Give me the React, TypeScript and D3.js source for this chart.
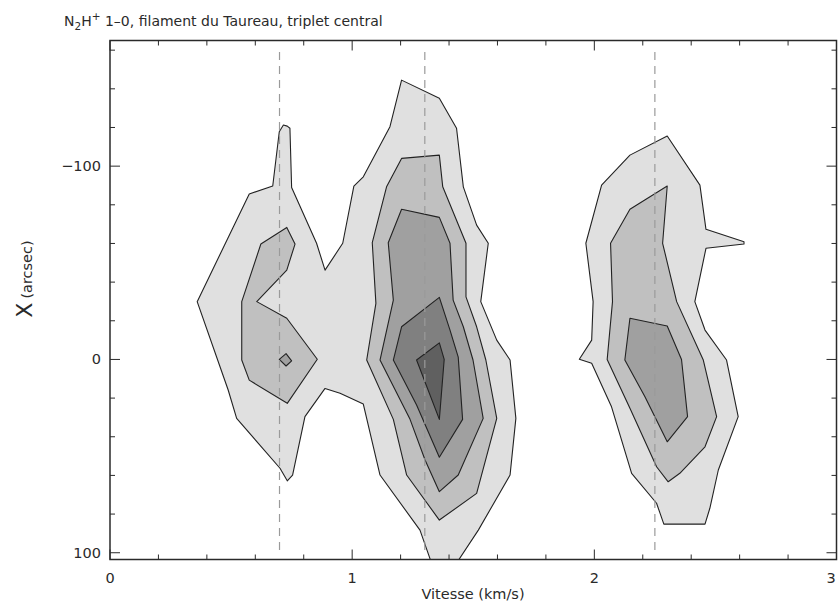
import React from "react"
import * as d3 from "d3"

// contour polygons, [velocity km/s, offset arcsec]
const outerLeftMid: [number, number][] = [
  [0.36, -29.9], [0.575, -85.6], [0.672, -89.7], [0.699, -117.8], [0.716, -121.3],
  [0.732, -120.7], [0.743, -119.6], [0.75, -89.0], [0.853, -60.1], [0.888, -46.2],
  [0.961, -60.1], [1.007, -89.7], [1.046, -94.5], [1.156, -120.4], [1.204, -144.5],
  [1.36, -135.1], [1.431, -119.6], [1.459, -89.3], [1.514, -69.5], [1.562, -60.1],
  [1.531, -29.9], [1.597, -10.0], [1.652, 0.3], [1.676, 30.5], [1.652, 59.8],
  [1.521, 88.3], [1.412, 109], [1.338, 109], [1.28, 88.3], [1.115, 59.8],
  [1.046, 23.1], [0.95, 17.5], [0.888, 15.0], [0.805, 29.6], [0.754, 59.8],
  [0.732, 62.8], [0.702, 56.3], [0.523, 30.5], [0.488, 15.8],
]
const leftL2: [number, number][] = [
  [0.73, -68.3], [0.764, -59.7], [0.73, -46.2], [0.606, -29.9], [0.73, -21.3],
  [0.856, -0.1], [0.732, 22.7], [0.575, 10.7], [0.544, 0.3], [0.544, -29.9], [0.623, -59.7],
]
const leftL3: [number, number][] = [
  [0.699, 0], [0.727, -3], [0.75, 0.7], [0.727, 3.4],
]
const midL2: [number, number][] = [
  [1.204, -104.0], [1.36, -105.7], [1.374, -89.3], [1.47, -60.1], [1.47, -32.4],
  [1.514, -16.9], [1.552, 0.3], [1.597, 30.5], [1.514, 69.3], [1.36, 83.1],
  [1.225, 59.8], [1.17, 31.0], [1.06, 0.3], [1.098, -29.0], [1.083, -60.4], [1.142, -89.3],
]
const midL3: [number, number][] = [
  [1.204, -77.7], [1.36, -73.5], [1.404, -60.1], [1.417, -30.7], [1.459, -16.9],
  [1.499, 0.3], [1.541, 30.5], [1.438, 59.8], [1.36, 68.4], [1.301, 52.0],
  [1.239, 31.0], [1.115, 0.3], [1.17, -30.7], [1.149, -60.4],
]
const midL4: [number, number][] = [
  [1.36, -32.1], [1.404, -15.2], [1.438, -1.2], [1.456, 31.0], [1.36, 50.6],
  [1.266, 23.6], [1.17, 0.3], [1.204, -16.9],
]
const midL5: [number, number][] = [
  [1.36, -8.6], [1.38, 0], [1.36, 31.0], [1.266, 0.3],
]
const rightL1: [number, number][] = [
  [2.301, -115.6], [2.147, -105.7], [2.03, -90.2], [1.965, -60.1], [1.995, -29.9],
  [1.989, -10.0], [1.938, -0.1], [1.989, 2.0], [2.071, 24.5], [2.154, 58.9],
  [2.257, 74.4], [2.287, 85.2], [2.457, 85.2], [2.477, 77.0], [2.512, 57.2],
  [2.594, 29.6], [2.546, 0.3], [2.457, -15.2], [2.415, -29.9], [2.461, -57.5],
  [2.618, -59.7], [2.618, -60.9], [2.461, -67.3], [2.436, -90.2],
]
const rightL2: [number, number][] = [
  [2.301, -89.7], [2.147, -77.7], [2.067, -60.1], [2.075, -29.9], [2.053, 0],
  [2.147, 25.3], [2.257, 55.5], [2.305, 63.3], [2.353, 58.9], [2.457, 45.2],
  [2.505, 29.6], [2.45, 0.3], [2.34, -29.9], [2.282, -60.1],
]
const rightL3: [number, number][] = [
  [2.147, -21.3], [2.301, -17.3], [2.36, 0], [2.385, 29.6], [2.301, 42.6],
  [2.209, 19.3], [2.126, 0.3],
]

const contours = [
  { level: 1, pts: outerLeftMid },
  { level: 1, pts: rightL1 },
  { level: 2, pts: leftL2 },
  { level: 2, pts: midL2 },
  { level: 2, pts: rightL2 },
  { level: 3, pts: leftL3 },
  { level: 3, pts: midL3 },
  { level: 3, pts: rightL3 },
  { level: 4, pts: midL4 },
  { level: 5, pts: midL5 },
]
const levelFill = ["", "#e0e0e0", "#c0c0c0", "#a0a0a0", "#808080", "#606060"]

const hyperfineLines = [0.7, 1.3, 2.25]
const xMajor = [0, 1, 2, 3]
const yMajor = [-100, 0, 100]
const yLabels = ["\u2212100", "0", "100"]

export default function App() {
  const left = 110, right = 836.5, top = 40.5, bottom = 559.5
  const x = d3.scaleLinear().domain([0, 3]).range([left, right])
  const y = d3.scaleLinear().domain([-165, 103.5]).range([top, bottom])
  const line = d3.line<[number, number]>()
    .x(d => x(d[0]))
    .y(d => y(d[1]))
    .curve(d3.curveLinearClosed)

  const xMinor = d3.range(0, 3.001, 0.2)
  const yMinor = d3.range(-160, 101, 20)
  const font = "'DejaVu Sans', Verdana, sans-serif"
  const ink = "#2a2a2a"

  return (
    <div style={{ position: "absolute", left: 0, top: 0 }}>
      <svg width={838} height={605} style={{ display: "block", background: "#fff" }} fontFamily={font}>
        <defs>
          <clipPath id="plot">
            <rect x={left} y={top} width={right - left} height={bottom - top} />
          </clipPath>
        </defs>
        <g clipPath="url(#plot)">
          {contours.map((c, i) => (
            <path key={i} d={line(c.pts) || ""} fill={levelFill[c.level]}
              stroke="#222" strokeWidth={1.1} strokeLinejoin="round" />
          ))}
          {hyperfineLines.map(v => (
            <line key={v} x1={x(v)} x2={x(v)} y1={y(-159)} y2={y(101)}
              stroke="#9a9a9a" strokeWidth={1.2} strokeDasharray="8,6" />
          ))}
        </g>
        {/* ticks */}
        {xMinor.map(v => {
          const len = xMajor.some(m => Math.abs(m - v) < 1e-6) ? 10 : 5
          return (
            <g key={"xt" + v}>
              <line x1={x(v)} x2={x(v)} y1={bottom} y2={bottom - len} stroke={ink} strokeWidth={1} />
              <line x1={x(v)} x2={x(v)} y1={top} y2={top + len} stroke={ink} strokeWidth={1} />
            </g>
          )
        })}
        {yMinor.map(v => {
          const len = yMajor.includes(v) ? 10 : 5
          return (
            <g key={"yt" + v}>
              <line x1={left} x2={left + len} y1={y(v)} y2={y(v)} stroke={ink} strokeWidth={1} />
              <line x1={right} x2={right - len} y1={y(v)} y2={y(v)} stroke={ink} strokeWidth={1} />
            </g>
          )
        })}
        <rect x={left} y={top} width={right - left} height={bottom - top} fill="none" stroke={ink} strokeWidth={1.5} />
        {/* tick labels */}
        {xMajor.map(v => (
          <text key={"xl" + v} x={Math.min(x(v), 831)} y={583} textAnchor="middle" fontSize={14.5} fill={ink}>{v}</text>
        ))}
        {yMajor.map((v, i) => (
          <text key={"yl" + v} x={101} y={y(v) + 5} textAnchor="end" fontSize={14.5} fill={ink}>{yLabels[i]}</text>
        ))}
        <text x={473} y={599} textAnchor="middle" fontSize={14.5} fill={ink}>Vitesse (km/s)</text>
        <text transform="translate(32,279) rotate(-90)" textAnchor="middle" fill={ink}>
          <tspan fontSize={22}>X</tspan>
          <tspan fontSize={14.5} dx={4}>(arcsec)</tspan>
        </text>
        <text x={64} y={26} fontSize={14} fill={ink}>
          N<tspan fontSize={10.5} dy={4}>2</tspan><tspan dy={-4}>H</tspan><tspan fontSize={10.5} dy={-6}>+</tspan>
          <tspan dy={6}>{"  1\u20130, filament du Taureau, triplet central"}</tspan>
        </text>
      </svg>
    </div>
  )
}
